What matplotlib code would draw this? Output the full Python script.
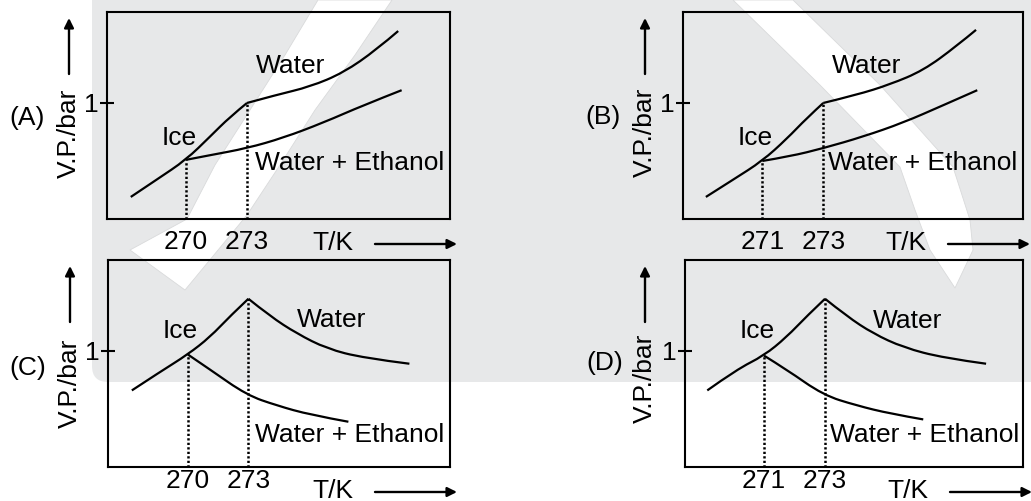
import matplotlib.pyplot as plt
from matplotlib.patches import Polygon, FancyBboxPatch, PathPatch
from matplotlib.path import Path

plt.rcParams['font.family'] = ['Liberation Sans', 'DejaVu Sans']

# vapour pressure sketches (T in K, P in arbitrary units, 1 = 1 bar)
ice_a_t = [267.28, 268.56, 270.0, 271.18, 272.16, 273.0]
ice_a_p = [0.19, 0.34, 0.51, 0.71, 0.88, 1.0]
water_a_t = [273.0, 274.46, 276.10, 277.74, 279.38, 280.44]
water_a_p = [1.0, 1.07, 1.14, 1.26, 1.46, 1.62]
mix_a_t = [270.0, 271.18, 273.0, 274.79, 276.75, 278.72, 280.61]
mix_a_p = [0.51, 0.55, 0.61, 0.70, 0.83, 0.98, 1.11]

ice_b_t = [269.15, 270.05, 271.0, 271.80, 272.46, 273.0]
ice_b_p = [0.19, 0.34, 0.50, 0.69, 0.87, 1.0]
water_b_t = [273.0, 274.10, 275.19, 276.28, 277.37, 278.01]
water_b_p = [1.0, 1.07, 1.16, 1.28, 1.49, 1.63]
mix_b_t = [271.0, 271.91, 273.0, 274.31, 275.62, 276.93, 278.05]
mix_b_p = [0.50, 0.54, 0.61, 0.71, 0.83, 0.98, 1.11]

ice_c_t = [267.23, 268.63, 270.0, 271.10, 272.09, 273.0]
ice_c_p = [0.66, 0.82, 0.97, 1.12, 1.30, 1.45]
water_c_t = [273.0, 274.07, 275.40, 276.88, 278.69, 280.97]
water_c_p = [1.45, 1.30, 1.15, 1.02, 0.94, 0.89]
mix_c_t = [270.0, 271.10, 272.92, 274.41, 276.05, 277.95]
mix_c_p = [0.97, 0.84, 0.62, 0.53, 0.45, 0.39]

ice_d_t = [269.14, 270.10, 271.0, 271.74, 272.40, 273.0]
ice_d_p = [0.66, 0.84, 0.96, 1.12, 1.30, 1.45]
water_d_t = [273.0, 273.71, 274.58, 275.57, 276.88, 278.28]
water_d_p = [1.45, 1.30, 1.15, 1.03, 0.94, 0.89]
mix_d_t = [271.0, 271.74, 272.94, 274.04, 275.13, 276.22]
mix_d_p = [0.96, 0.84, 0.62, 0.53, 0.46, 0.41]

ticks_ac = [270, 273]
ticks_bd = [271, 273]

W, H = 1031, 501
FS = 19
GREY = '#e7e8e9'


def fpos(x, y):
    # pixel position -> figure fraction
    return x / W, 1 - y / H


def smooth_curve(ax, xs, ys):
    # quadratic bezier through the read-off points so the sketch isn't jagged
    verts = [(xs[0], ys[0])]
    codes = [Path.MOVETO]
    n = len(xs)
    for i in range(1, n - 1):
        if i == n - 2:
            end = (xs[-1], ys[-1])
        else:
            end = ((xs[i] + xs[i + 1]) / 2, (ys[i] + ys[i + 1]) / 2)
        verts += [(xs[i], ys[i]), end]
        codes += [Path.CURVE3, Path.CURVE3]
    ax.add_patch(PathPatch(Path(verts, codes), fc='none', ec='black',
                           lw=1.6, capstyle='butt', joinstyle='round',
                           zorder=3))


fig = plt.figure(figsize=(W / 100, H / 100), dpi=100)

# faint watermark in the background
bg = fig.add_axes([0, 0, 1, 1])
bg.set_xlim(0, W)
bg.set_ylim(H, 0)
bg.axis('off')
bg.add_patch(FancyBboxPatch((92, -40), 1000, 422,
                            boxstyle='round,pad=0,rounding_size=16',
                            fc=GREY, ec='none'))
bg.add_patch(Polygon([(392, 0), (355, 55), (315, 110), (280, 165), (247, 215),
                      (185, 290), (130, 250), (187, 219), (215, 165),
                      (250, 110), (285, 55), (318, 0)],
                     fc='white', ec='#d9dadb', lw=0.6))
bg.add_patch(Polygon([(733, 0), (793, 0), (880, 85), (953, 167), (970, 220),
                      (973, 250), (955, 288), (930, 250), (915, 210),
                      (900, 167), (820, 85)],
                     fc='white', ec='#d9dadb', lw=0.6))


def panel(box, xlim, ticks, ice, water, mix, tag, tag_y, lab_x, xpad,
          water_xy, ice_xy, mix_xy, tk_y, arrow_x):
    l, t, r, b = box
    ax = fig.add_axes([l / W, 1 - b / H, (r - l) / W, (b - t) / H])
    ax.set_facecolor('none')
    ax.set_xlim(*xlim)
    ax.set_ylim(0, 1.784)
    for s in ax.spines.values():
        s.set_linewidth(1.5)

    # dotted drop lines at the junction and at 273 K
    for tt, pp in [(mix[0][0], mix[1][0]), (water[0][0], water[1][0])]:
        ax.plot([tt, tt], [0, pp], color='black', lw=1.8, ls=(0, (0.9, 0.9)))

    for xs, ys in (ice, water, mix):
        smooth_curve(ax, xs, ys)

    ax.set_yticks([1])
    ax.set_yticklabels(['1'], fontsize=FS)
    ax.tick_params(axis='y', direction='inout', length=9.5, width=1.5, pad=1)
    ax.set_xticks(ticks)
    ax.set_xticklabels([str(v) for v in ticks], fontsize=FS)
    ax.tick_params(axis='x', length=0, pad=xpad)

    ax.text(*water_xy, 'Water', fontsize=FS, ha='center', va='center')
    ax.text(*ice_xy, 'Ice', fontsize=FS, ha='center', va='center')
    ax.text(*mix_xy, 'Water + Ethanol', fontsize=FS, ha='left', va='center')

    # side labels and axis arrows
    fig.text(*fpos(l - 80, tag_y), tag, fontsize=FS, ha='center', va='center')
    fig.text(*fpos(lab_x, tag_y + 15), 'V.P./bar', fontsize=FS,
             rotation=90, ha='center', va='center')
    fig.add_artist(plt.Annotation('', xy=fpos(lab_x, t + 6),
                                  xytext=fpos(lab_x, t + 62),
                                  xycoords='figure fraction',
                                  arrowprops=dict(arrowstyle='-|>', lw=1.7,
                                                  color='black',
                                                  mutation_scale=14,
                                                  shrinkA=0, shrinkB=0)))
    fig.text(*fpos(arrow_x - 42, tk_y), 'T/K', fontsize=FS,
             ha='center', va='center')
    fig.add_artist(plt.Annotation('', xy=fpos(arrow_x + 82, tk_y + 1),
                                  xytext=fpos(arrow_x, tk_y + 1),
                                  xycoords='figure fraction',
                                  arrowprops=dict(arrowstyle='-|>', lw=1.7,
                                                  color='black',
                                                  mutation_scale=14,
                                                  shrinkA=0, shrinkB=0)))
    return ax


panel((107, 12, 450, 219), (266.11, 282.99), ticks_ac,
      (ice_a_t, ice_a_p), (water_a_t, water_a_p), (mix_a_t, mix_a_p),
      '(A)', 118, 69, 8, (275.12, 1.32), (269.66, 0.70), (273.39, 0.483),
      243, 375)
panel((683, 12, 1023, 219), (268.40, 279.55), ticks_bd,
      (ice_b_t, ice_b_p), (water_b_t, water_b_p), (mix_b_t, mix_b_p),
      '(B)', 117, 645, 8, (274.43, 1.32), (270.76, 0.70), (273.15, 0.483),
      243, 948)
panel((108, 260, 450, 467), (266.05, 282.98), ticks_ac,
      (ice_c_t, ice_c_p), (water_c_t, water_c_p), (mix_c_t, mix_c_p),
      '(C)', 368, 70, 1.5, (277.14, 1.267), (269.62, 1.17), (273.34, 0.276),
      491, 375)
panel((685, 260, 1023, 467), (268.41, 279.49), ticks_bd,
      (ice_d_t, ice_d_p), (water_d_t, water_d_p), (mix_d_t, mix_d_p),
      '(D)', 363, 645, 1.5, (275.72, 1.259), (270.77, 1.17), (273.16, 0.276),
      491, 950)

fig.savefig('out.png', dpi=100)
